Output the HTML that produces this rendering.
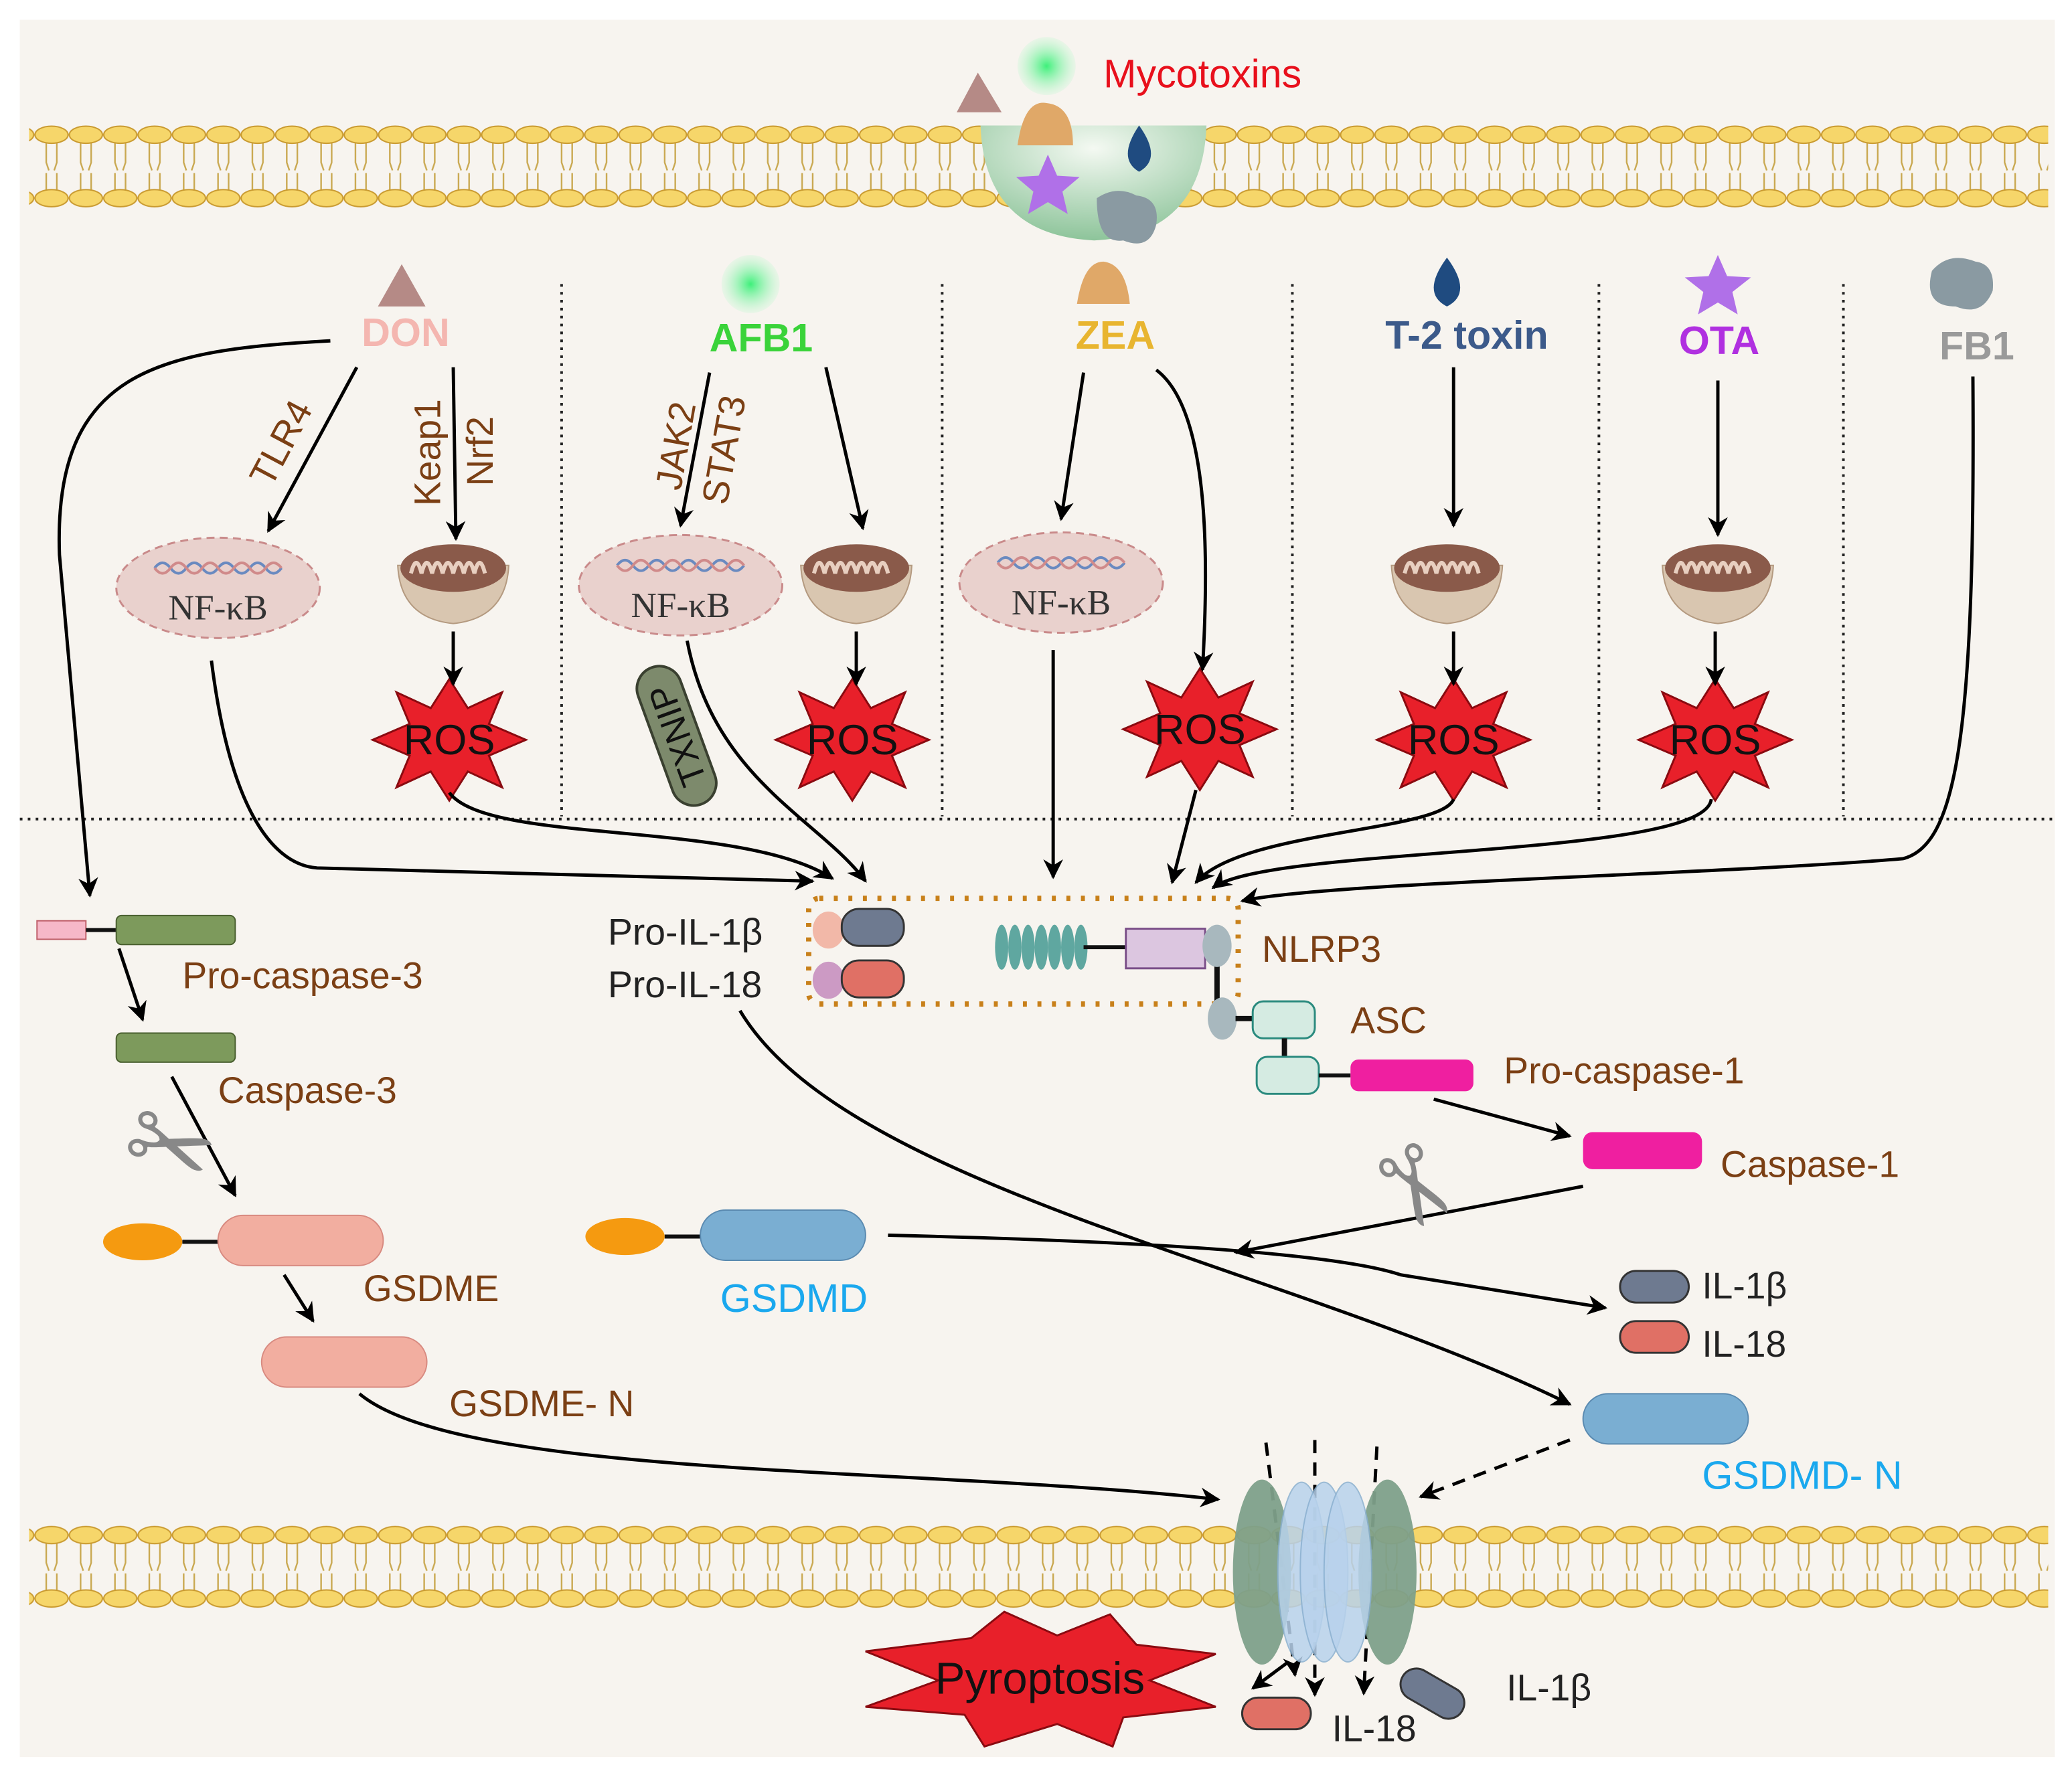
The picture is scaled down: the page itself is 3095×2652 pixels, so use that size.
<!DOCTYPE html>
<html><head><meta charset="utf-8"><style>
html,body{margin:0;padding:0;background:#fff;}
svg{display:block;}
</style></head><body>
<svg width="3095" height="2652" viewBox="0 0 1568 1343.6" preserveAspectRatio="none" xmlns="http://www.w3.org/2000/svg" font-family="Liberation Sans, sans-serif">
<defs>
<marker id="a" viewBox="0 0 10 10" refX="9" refY="5" markerWidth="6" markerHeight="6" orient="auto-start-reverse"><path d="M0,0 L10,5 L0,10 L3,5 z" fill="#000"/></marker>
<g id="memtile">
<path d="M9,13 L9,28 L11,34 M17,13 L17,28 L15,34 M9,49 L9,36 M17,49 L17,36" stroke="#c9a850" stroke-width="1.2" fill="none"/>
<ellipse cx="13" cy="7" rx="12.5" ry="6.5" fill="#f6d66a" stroke="#c99a30" stroke-width="1"/>
<ellipse cx="13" cy="55" rx="12.5" ry="6.5" fill="#f6d66a" stroke="#c99a30" stroke-width="1"/>
</g>
<pattern id="mem1" x="0" y="95" width="26" height="62" patternUnits="userSpaceOnUse"><use href="#memtile"/></pattern>
<pattern id="mem2" x="0" y="1155" width="26" height="62" patternUnits="userSpaceOnUse"><use href="#memtile"/></pattern>
<radialGradient id="cup" cx="0.5" cy="0.2" r="0.8"><stop offset="0" stop-color="#f4f9f2"/><stop offset="1" stop-color="#8dc49a"/></radialGradient>
<radialGradient id="glow" cx="0.5" cy="0.5" r="0.5"><stop offset="0" stop-color="#3ef07a"/><stop offset="1" stop-color="#c8f7d5" stop-opacity="0.3"/></radialGradient>
<g id="mito"><path d="M-42,-12 Q-40,28 0,32 Q40,28 42,-12 Z" fill="#d9c6b0" stroke="#b49a80"/><ellipse cx="0" cy="-10" rx="40" ry="18" fill="#8a5a4a"/><path d="M-32,-6 q4,-16 8,0 q4,-16 8,0 q4,-16 8,0 q4,-16 8,0 q4,-16 8,0 q4,-16 8,0 q4,-16 8,0" stroke="#e8cfc0" stroke-width="3" fill="none"/></g>
<g id="ros"><polygon points="0,-46 14,-24 40,-36 30,-12 58,0 30,12 40,36 14,24 0,46 -14,24 -40,36 -30,12 -58,0 -30,-12 -40,-36 -14,-24" fill="#e8202a" stroke="#8a0a10" stroke-width="1.5"/><text x="0" y="11" font-size="32" text-anchor="middle" fill="#111">ROS</text></g>
<g id="nfkb"><ellipse cx="0" cy="0" rx="77" ry="38" fill="#e9d1cd" stroke="#c98a8a" stroke-width="1.5" stroke-dasharray="6,4"/><path d="M-48,-15 q6,-8 12,0 t12,0 t12,0 t12,0 t12,0 t12,0 t12,0 t12,0" stroke="#6a8ac0" stroke-width="2" fill="none"/><path d="M-48,-15 q6,8 12,0 t12,0 t12,0 t12,0 t12,0 t12,0 t12,0 t12,0" stroke="#d08a8a" stroke-width="2" fill="none"/><text x="0" y="24" font-size="27" text-anchor="middle" font-family="Liberation Serif, serif" fill="#333">NF-κB</text></g>
</defs>
<rect x="0" y="0" width="1568" height="1344" fill="#fff"/>
<rect x="15" y="15" width="1540" height="1315" fill="#f7f4ef"/>
<rect x="22" y="95" width="1528" height="62" fill="url(#mem1)"/>
<rect x="22" y="1155" width="1528" height="62" fill="url(#mem2)"/>
<path d="M742,95 Q745,178 828,182 Q910,178 913,95 Z" fill="url(#cup)"/>
<circle cx="792" cy="50" r="22" fill="url(#glow)"/>
<polygon points="724,85 740,55 758,85" fill="#b58a86"/>
<path d="M770,110 Q775,75 792,78 Q812,80 812,110 Z" fill="#e0a868"/>
<path d="M862,95 Q845,120 862,130 Q880,120 862,95 Z" fill="#1f4b80"/>
<polygon points="793,117 800,133 817,134 804,145 808,162 793,153 778,162 782,145 769,134 786,133" fill="#b070e8"/>
<path d="M830,150 Q845,140 860,148 Q878,150 875,170 Q870,190 850,182 Q830,185 830,150 Z" fill="#8a9aa2"/>
<text x="835" y="66" font-size="30" fill="#e8101c">Mycotoxins</text>
<polygon points="286,232 304,200 322,232" fill="#b58a86"/>
<circle cx="568" cy="215" r="22" fill="url(#glow)"/>
<path d="M815,230 Q820,198 835,198 Q852,200 855,230 Z" fill="#e0a868"/>
<path d="M1095,195 Q1075,222 1095,232 Q1115,222 1095,195 Z" fill="#1f4b80"/>
<polygon points="1300,193 1307,209 1325,210 1311,221 1315,238 1300,229 1285,238 1289,221 1275,210 1293,209" fill="#b070e8"/>
<path d="M1462,205 Q1475,190 1495,198 Q1510,200 1508,220 Q1500,240 1480,232 Q1455,232 1462,205 Z" fill="#8a9aa2"/>
<g font-size="30" font-weight="bold">
<text x="307" y="262" text-anchor="middle" fill="#f4b6b0">DON</text>
<text x="576" y="266" text-anchor="middle" fill="#3ad33a">AFB1</text>
<text x="844" y="264" text-anchor="middle" fill="#e8b530">ZEA</text>
<text x="1110" y="264" text-anchor="middle" fill="#3c5a8a">T-2 toxin</text>
<text x="1301" y="268" text-anchor="middle" fill="#b030e0">OTA</text>
<text x="1496" y="272" text-anchor="middle" fill="#9a9a9a">FB1</text>
</g>
<g stroke="#222" stroke-width="2" stroke-dasharray="2,4">
<line x1="425" y1="215" x2="425" y2="618"/><line x1="713" y1="215" x2="713" y2="618"/><line x1="978" y1="215" x2="978" y2="618"/><line x1="1210" y1="215" x2="1210" y2="618"/><line x1="1395" y1="215" x2="1395" y2="618"/>
<line x1="15" y1="620" x2="1555" y2="620"/>
</g>
<use href="#nfkb" x="165" y="445"/><use href="#nfkb" x="515" y="443"/><use href="#nfkb" x="803" y="441"/>
<use href="#mito" x="343" y="440"/><use href="#mito" x="648" y="440"/><use href="#mito" x="1095" y="440"/><use href="#mito" x="1300" y="440"/>
<use href="#ros" x="340" y="560"/><use href="#ros" x="645" y="560"/><use href="#ros" x="908" y="552"/><use href="#ros" x="1100" y="560"/><use href="#ros" x="1298" y="560"/>
<g transform="translate(512,557) rotate(-110)"><rect x="-55" y="-17" width="110" height="34" rx="17" fill="#7d8a6c" stroke="#3a4030" stroke-width="2"/><text x="0" y="10" font-size="27" text-anchor="middle" fill="#111">TXNIP</text></g>
<g font-size="28" fill="#7b3f14">
<text transform="translate(205,370) rotate(-62)">TLR4</text>
<text transform="translate(333,383) rotate(-90)">Keap1</text>
<text transform="translate(373,368) rotate(-90)">Nrf2</text>
<text transform="translate(515,372) rotate(-80)">JAK2</text>
<text transform="translate(550,383) rotate(-80)">STAT3</text>
</g>
<g stroke="#000" stroke-width="2.5" fill="none" marker-end="url(#a)">
<path d="M250,258 C120,265 40,280 45,420 L68,678"/>
<path d="M270,278 L203,402"/>
<path d="M343,278 L345,408"/>
<path d="M537,282 L515,398"/>
<path d="M625,278 L653,400"/>
<path d="M343,478 L343,518"/>
<path d="M648,478 L648,518"/>
<path d="M1100,278 L1100,398"/>
<path d="M1300,288 L1300,405"/>
<path d="M1100,478 L1100,518"/>
<path d="M1298,478 L1298,518"/>
<path d="M820,282 L803,393"/>
<path d="M875,280 C915,310 915,420 910,507"/>
<path d="M160,500 C175,620 210,655 240,657 L615,667"/>
<path d="M340,600 C370,640 560,620 630,665"/>
<path d="M520,485 C540,590 620,620 655,667"/>
<path d="M797,492 L797,664"/>
<path d="M905,598 L887,668"/>
<path d="M1100,605 C1090,630 940,628 905,668"/>
<path d="M1295,605 C1290,650 960,640 918,672"/>
<path d="M1493,285 C1495,560 1480,640 1440,650 C1300,662 1000,668 940,682"/>
<path d="M90,718 L108,772"/>
<path d="M130,815 L178,905"/>
<path d="M215,965 L237,1000"/>
<path d="M560,765 C640,900 980,960 1188,1063"/>
<path d="M672,935 C800,938 1000,945 1060,965 L1215,990"/>
<path d="M1085,832 L1188,860"/>
<path d="M1198,898 L935,948"/>
<path d="M272,1055 C350,1120 700,1110 922,1135"/>
<path d="M1188,1090 L1075,1133" stroke-dasharray="10,7"/>
<path d="M958,1092 L980,1268" stroke-dasharray="10,7"/>
<path d="M995,1090 L995,1283" stroke-dasharray="10,7"/>
<path d="M1042,1095 L1032,1282" stroke-dasharray="10,7"/>
<path d="M975,1258 L948,1278"/>
</g>
<rect x="612" y="680" width="325" height="80" fill="none" stroke="#c8801a" stroke-width="4" stroke-dasharray="3,8" rx="8"/>
<ellipse cx="627" cy="704" rx="12" ry="14" fill="#f2b8a8"/>
<rect x="637" y="688" width="47" height="28" rx="13" fill="#6e7a90" stroke="#333" stroke-width="1.5"/>
<ellipse cx="627" cy="742" rx="12" ry="14" fill="#cc9ac4"/>
<rect x="637" y="727" width="47" height="28" rx="13" fill="#e07065" stroke="#333" stroke-width="1.5"/>
<g fill="#5fa7a0"><ellipse cx="758" cy="717" rx="5" ry="17"/><ellipse cx="768" cy="717" rx="5" ry="17"/><ellipse cx="778" cy="717" rx="5" ry="17"/><ellipse cx="788" cy="717" rx="5" ry="17"/><ellipse cx="798" cy="717" rx="5" ry="17"/><ellipse cx="808" cy="717" rx="5" ry="17"/><ellipse cx="818" cy="717" rx="5" ry="17"/></g>
<line x1="820" y1="717" x2="852" y2="717" stroke="#111" stroke-width="3"/>
<rect x="852" y="703" width="60" height="30" fill="#dcc6e0" stroke="#7a4e88" stroke-width="1.5"/>
<line x1="921" y1="725" x2="921" y2="770" stroke="#111" stroke-width="4"/>
<ellipse cx="921" cy="716" rx="11" ry="16" fill="#a8b8be"/>
<ellipse cx="925" cy="771" rx="11" ry="16" fill="#a8b8be"/>
<line x1="935" y1="771" x2="948" y2="771" stroke="#111" stroke-width="4"/>
<rect x="948" y="758" width="47" height="28" rx="8" fill="#d5ebe2" stroke="#2a8a7e" stroke-width="1.5"/>
<line x1="972" y1="786" x2="972" y2="800" stroke="#111" stroke-width="4"/>
<rect x="951" y="800" width="47" height="28" rx="8" fill="#d5ebe2" stroke="#2a8a7e" stroke-width="1.5"/>
<line x1="998" y1="814" x2="1022" y2="814" stroke="#111" stroke-width="3"/>
<rect x="1022" y="802" width="93" height="24" rx="6" fill="#ef1fa0"/>
<rect x="1198" y="857" width="90" height="28" rx="7" fill="#ef1fa0"/>
<g font-size="28" fill="#7b3f14">
<text x="955" y="728">NLRP3</text><text x="1022" y="782">ASC</text>
<text x="1138" y="820">Pro-caspase-1</text><text x="1302" y="891">Caspase-1</text>
<text x="138" y="748">Pro-caspase-3</text><text x="165" y="835">Caspase-3</text>
<text x="275" y="985">GSDME</text><text x="340" y="1072">GSDME- N</text>
</g>
<g font-size="28" fill="#222"><text x="460" y="715">Pro-IL-1β</text><text x="460" y="755">Pro-IL-18</text>
<text x="1288" y="983">IL-1β</text><text x="1288" y="1027">IL-18</text><text x="1140" y="1287">IL-1β</text><text x="1008" y="1318">IL-18</text></g>
<rect x="28" y="697" width="37" height="14" fill="#f6b8c8" stroke="#c0606a"/>
<line x1="65" y1="704" x2="88" y2="704" stroke="#111" stroke-width="3"/>
<rect x="88" y="693" width="90" height="22" rx="4" fill="#7d9a5c" stroke="#4a6030"/>
<rect x="88" y="782" width="90" height="22" rx="4" fill="#7d9a5c" stroke="#4a6030"/>
<text x="128" y="895" font-size="80" fill="#888" transform="rotate(20 128 870)" text-anchor="middle">✂</text>
<text x="1068" y="925" font-size="80" fill="#888" transform="rotate(60 1068 900)" text-anchor="middle">✂</text>
<ellipse cx="108" cy="940" rx="30" ry="14" fill="#f59a10"/>
<line x1="138" y1="940" x2="165" y2="940" stroke="#111" stroke-width="3"/>
<rect x="165" y="920" width="125" height="38" rx="19" fill="#f2aea0" stroke="#d88a80"/>
<rect x="198" y="1012" width="125" height="38" rx="19" fill="#f2aea0" stroke="#d88a80"/>
<ellipse cx="473" cy="936" rx="30" ry="14" fill="#f59a10"/>
<line x1="503" y1="936" x2="530" y2="936" stroke="#111" stroke-width="3"/>
<rect x="530" y="916" width="125" height="38" rx="19" fill="#7aaed2" stroke="#5a8ab0"/>
<rect x="1198" y="1055" width="125" height="38" rx="19" fill="#7aaed2" stroke="#5a8ab0"/>
<g font-size="30" fill="#1aa8ee"><text x="545" y="993">GSDMD</text><text x="1288" y="1127">GSDMD- N</text></g>
<rect x="1226" y="962" width="52" height="24" rx="12" fill="#6e7a90" stroke="#333" stroke-width="1.5"/>
<rect x="1226" y="1000" width="52" height="24" rx="12" fill="#e07065" stroke="#333" stroke-width="1.5"/>
<ellipse cx="955" cy="1190" rx="22" ry="70" fill="#7ea08a" opacity="0.95"/>
<ellipse cx="1050" cy="1190" rx="22" ry="70" fill="#7ea08a" opacity="0.95"/>
<ellipse cx="985" cy="1190" rx="18" ry="68" fill="#b8d2ec" opacity="0.85" stroke="#8ab0d0"/>
<ellipse cx="1002" cy="1190" rx="18" ry="68" fill="#b8d2ec" opacity="0.85" stroke="#8ab0d0"/>
<ellipse cx="1020" cy="1190" rx="18" ry="68" fill="#b8d2ec" opacity="0.85" stroke="#8ab0d0"/>
<rect x="1058" y="1270" width="52" height="24" rx="12" fill="#6e7a90" stroke="#333" stroke-width="1.5" transform="rotate(30 1084 1282)"/>
<rect x="940" y="1285" width="52" height="24" rx="12" fill="#e07065" stroke="#333" stroke-width="1.5"/>
<polygon points="655,1250 735,1240 760,1220 800,1238 840,1222 860,1245 920,1252 870,1272 920,1292 850,1300 842,1322 800,1305 745,1322 730,1298 655,1292 710,1272" fill="#e8202a" stroke="#8a0a10" stroke-width="1.5"/>
<text x="787" y="1282" font-size="34" text-anchor="middle" fill="#111">Pyroptosis</text>
</svg>
</body></html>
